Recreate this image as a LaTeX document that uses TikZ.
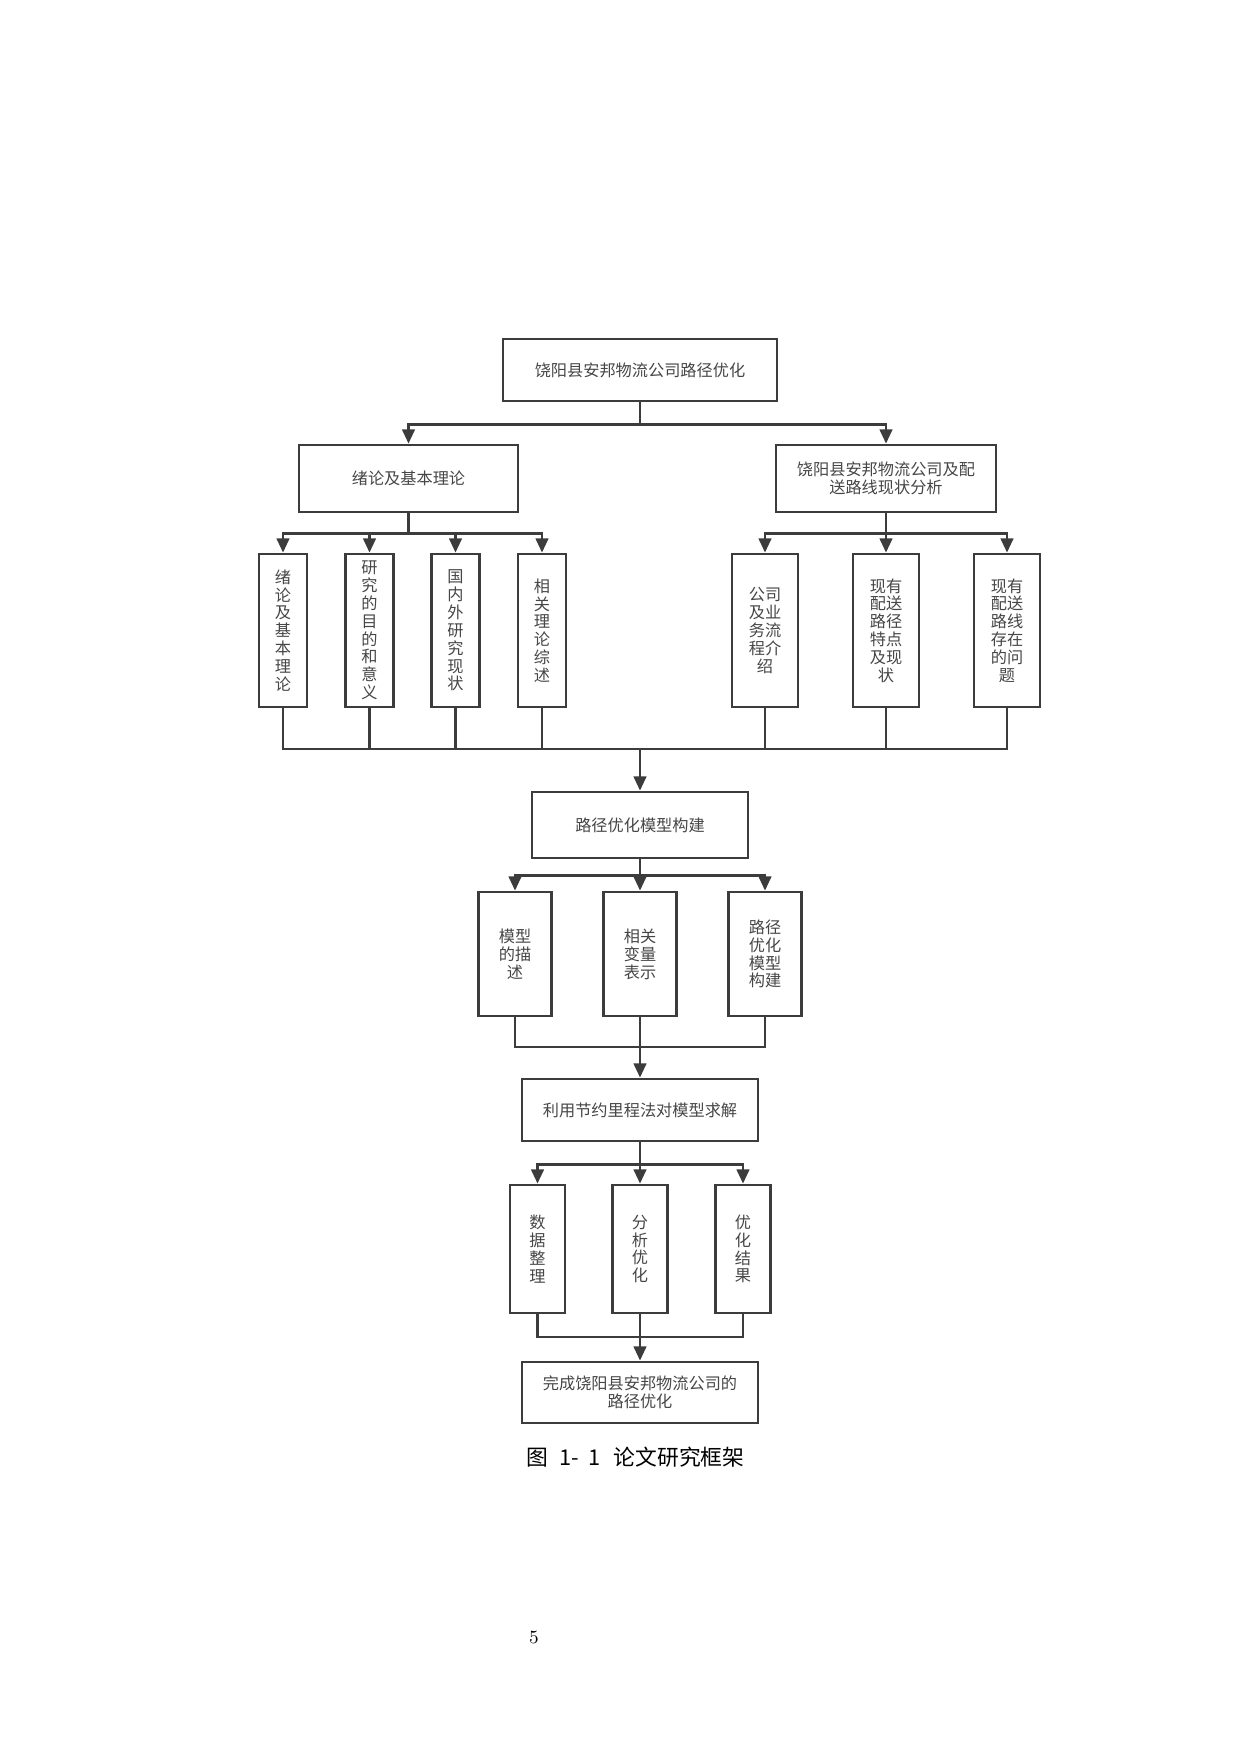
\documentclass[tikz,border=0pt]{standalone}
\usepackage{fontspec}
\newfontfamily\cjk{Noto Sans CJK SC}
\usetikzlibrary{positioning, arrows.meta}

\newcommand{\pxl}{0.16935mm}
\definecolor{linegray}{RGB}{60,60,60}
\definecolor{textgray}{RGB}{70,70,70}

\begin{document}
\begin{tikzpicture}[x=\pxl, y=-\pxl, >={Triangle[length=2.4mm, width=2.1mm]},
  box/.style={draw=linegray, line width=1.3pt, fill=white, inner sep=0pt, align=center, text=textgray, font=\cjk\fontsize{7.8}{8.6}\selectfont},
  boxsize/.style 2 args={minimum width=#1*\pxl, minimum height=#2*\pxl},
  link/.style={draw=linegray, line width=1.3pt}]

\useasboundingbox (0,0) rectangle (1240,1754);

% Define nodes
\node[box, boxsize={274}{62}] (top) at (640,370) {饶阳县安邦物流公司路径优化};
\node[box, boxsize={219}{67}] (theory) at (408.5,478.5) {绪论及基本理论};
\node[box, boxsize={220}{67}] (status) at (886,478.5) {饶阳县安邦物流公司及配\\送路线现状分析};

\node[box, boxsize={48}{153}] (t1) at (283,630.5) {绪\\论\\及\\基\\本\\理\\论};
\node[box, boxsize={48}{153}] (t2) at (369.5,630.5) {研\\究\\的\\目\\的\\和\\意\\义};
\node[box, boxsize={48}{153}] (t3) at (455.5,630.5) {国\\内\\外\\研\\究\\现\\状};
\node[box, boxsize={48}{153}] (t4) at (542,630.5) {相\\关\\理\\论\\综\\述};

\node[box, boxsize={66}{153}] (s1) at (765,630.5) {公司\\及业\\务流\\程介\\绍};
\node[box, boxsize={66}{153}] (s2) at (886,630.5) {现有\\配送\\路径\\特点\\及现\\状};
\node[box, boxsize={66}{153}] (s3) at (1007,630.5) {现有\\配送\\路线\\存在\\的问\\题};

\node[box, boxsize={216}{66}] (model) at (640,825) {路径优化模型构建};
\node[box, boxsize={73}{124}] (m1) at (515,954) {模型\\的描\\述};
\node[box, boxsize={73}{124}] (m2) at (640,954) {相关\\变量\\表示};
\node[box, boxsize={73}{124}] (m3) at (765,954) {路径\\优化\\模型\\构建};

\node[box, boxsize={236}{62}] (solve) at (640,1110) {利用节约里程法对模型求解};
\node[box, boxsize={55}{128}] (v1) at (537.5,1249) {数\\据\\整\\理};
\node[box, boxsize={55}{128}] (v2) at (640,1249) {分\\析\\优\\化};
\node[box, boxsize={55}{128}] (v3) at (743,1249) {优\\化\\结\\果};

\node[box, boxsize={236}{61}] (done) at (640,1392.5) {完成饶阳县安邦物流公司的\\路径优化};

\node[font=\cjk\fontsize{10.5}{12}\selectfont] (caption) at (635.5,1457) {图\hspace{0.5em}1-\hspace{0.45em}1\hspace{0.6em}论文研究框架};
\node[font=\fontsize{9}{10}\selectfont] (page) at (534,1637) {5};

% Junctions
\coordinate (j1) at (640,749);
\coordinate (j2) at (640,1047);
\coordinate (j3) at (640,1337);

% Draw edges with arrows
\draw[link, ->] (top.south) -- ++(0,22) -| (theory.north);
\draw[link, ->] (top.south) -- ++(0,22) -| (status.north);
\foreach \n in {t1,t2,t3,t4} \draw[link, ->] (theory.south) -- ++(0,20) -| (\n.north);
\foreach \n in {s1,s2,s3} \draw[link, ->] (status.south) -- ++(0,20) -| (\n.north);

\foreach \n in {t1,t2,t3,t4,s1,s2,s3} \draw[link] (\n.south) |- (j1);
\draw[link, ->] (j1) -- (model.north);

\foreach \n in {m1,m2,m3} \draw[link, ->] (model.south) -- ++(0,16) -| (\n.north);
\foreach \n in {m1,m2,m3} \draw[link] (\n.south) |- (j2);
\draw[link, ->] (j2) -- (solve.north);

\foreach \n in {v1,v2,v3} \draw[link, ->] (solve.south) -- ++(0,22) -| (\n.north);
\foreach \n in {v1,v2,v3} \draw[link] (\n.south) |- (j3);
\draw[link, ->] (j3) -- (done.north);

\end{tikzpicture}
\end{document}
